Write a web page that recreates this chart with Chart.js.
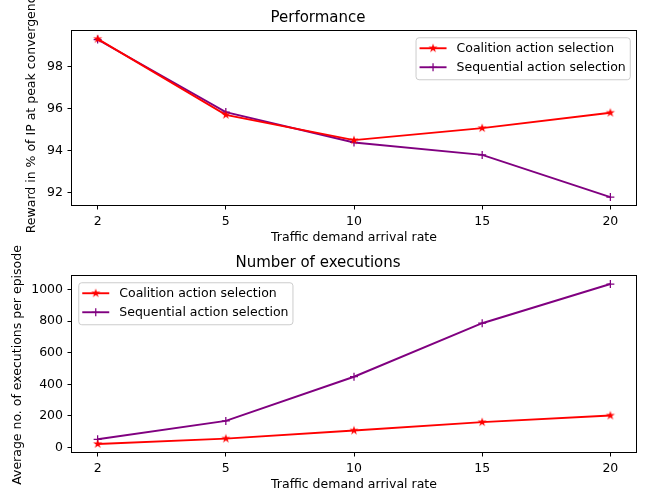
<!DOCTYPE html>
<html>
<head>
<meta charset="utf-8">
<script src="https://cdn.jsdelivr.net/npm/chart.js@4.4.1/dist/chart.umd.min.js"></script>
<style>
  html, body { margin: 0; padding: 0; background: #fff; }
  #wrap { position: relative; width: 646px; height: 498px; }
  #wrap canvas { position: absolute; left: 0; top: 0; }
</style>
</head>
<body>
<div id="wrap">
  <canvas id="bottomChart" width="646" height="498" style="width:646px;height:498px"></canvas>
  <canvas id="topChart" width="646" height="498" style="width:646px;height:498px"></canvas>
</div>
<script>
// Data
const arrivalRates = ['2', '5', '10', '15', '20'];
const seriesNames = ['Coalition action selection', 'Sequential action selection'];
const coalitionReward = [99.30, 95.70, 94.50, 95.07, 95.80];
const sequentialReward = [99.27, 95.83, 94.39, 93.80, 91.80];
const coalitionExecutions = [23, 57, 108, 161, 203];
const sequentialExecutions = [53, 169, 448, 786, 1034];
const rewardTicks = [92, 94, 96, 98];
const executionTicks = [0, 200, 400, 600, 800, 1000];

const FONT = 'DejaVu Sans';
const tickFont = { family: FONT, size: 12.5 };
Chart.defaults.color = '#000';
Chart.defaults.font.family = FONT;

// filled five-point star, like matplotlib's '*' marker
function makeStar(r, color) {
    const c = document.createElement('canvas');
    const s = Math.ceil(r * 2) + 2;
    c.width = s;
    c.height = s;
    const g = c.getContext('2d');
    g.beginPath();
    for (let i = 0; i < 10; i++) {
        const rad = i % 2 === 0 ? r : r * 0.382;
        const a = -Math.PI / 2 + i * Math.PI / 5;
        const px = s / 2 + rad * Math.cos(a);
        const py = s / 2 + rad * Math.sin(a);
        if (i === 0) g.moveTo(px, py); else g.lineTo(px, py);
    }
    g.closePath();
    g.fillStyle = color;
    g.fill();
    return c;
}
const redStar = makeStar(4.8, '#ff0000');

function paddedRange(a, b) {
    const all = a.concat(b);
    const lo = Math.min(...all), hi = Math.max(...all);
    const m = (hi - lo) * 0.05;
    return { min: lo - m, max: hi + m };
}

function toPoints(values) {
    return values.map((v, i) => ({ x: i, y: v }));
}

// frame, rotated y label and matplotlib-like legend
const mplDecor = {
    id: 'mplDecor',
    afterDatasetsDraw(chart, args, opts) {
        const ctx = chart.ctx;
        const a = chart.chartArea;
        ctx.save();
        ctx.strokeStyle = '#000';
        ctx.lineWidth = 1;
        ctx.strokeRect(Math.round(a.left) - 0.5, Math.round(a.top) - 0.5,
            Math.round(a.right - a.left) + 1, Math.round(a.bottom - a.top) + 1);

        // y axis label (drawn by hand so it can overflow like the original)
        ctx.font = '12.5px "' + FONT + '"';
        ctx.fillStyle = '#000';
        ctx.translate(opts.yLabelX, (a.top + a.bottom) / 2 + opts.yLabelShift);
        ctx.rotate(-Math.PI / 2);
        ctx.textAlign = 'center';
        ctx.textBaseline = 'middle';
        ctx.fillText(opts.yLabel, 0, 0);
        ctx.restore();

        // legend
        const fs = 12.5;
        ctx.save();
        ctx.font = fs + 'px "' + FONT + '"';
        const sets = chart.data.datasets;
        const textW = Math.max(...sets.map(d => ctx.measureText(d.label).width));
        const w = 0.4 * fs + 2 * fs + 0.8 * fs + textW + 0.4 * fs;
        const h = 42;
        const x = opts.corner === 'right' ? a.right - 0.5 * fs - w : a.left + 0.5 * fs;
        const y = a.top + 0.5 * fs;
        ctx.beginPath();
        ctx.roundRect(x + 0.5, y + 0.5, w, h, 3);
        ctx.fillStyle = 'rgba(255,255,255,0.8)';
        ctx.fill();
        ctx.strokeStyle = '#cccccc';
        ctx.lineWidth = 1;
        ctx.stroke();
        sets.forEach((d, i) => {
            const ry = y + 11 + i * 19;
            ctx.strokeStyle = d.borderColor;
            ctx.lineWidth = 1.9;
            ctx.beginPath();
            ctx.moveTo(x + 4, ry);
            ctx.lineTo(x + 31, ry);
            ctx.stroke();
            const mx = x + 17.5;
            if (d.pointStyle === 'cross') {
                ctx.lineWidth = 1.25;
                ctx.beginPath();
                ctx.moveTo(mx - 4, ry); ctx.lineTo(mx + 4, ry);
                ctx.moveTo(mx, ry - 4); ctx.lineTo(mx, ry + 4);
                ctx.stroke();
            } else {
                ctx.drawImage(d.pointStyle, mx - d.pointStyle.width / 2, ry - d.pointStyle.height / 2);
            }
            ctx.fillStyle = '#000';
            ctx.textBaseline = 'middle';
            ctx.fillText(d.label, x + 41, ry);
        });
        ctx.restore();
    }
};

function makeDatasets(coalition, sequential) {
    return [{
        label: seriesNames[0],
        data: toPoints(coalition),
        borderColor: '#ff0000',
        backgroundColor: '#ff0000',
        borderWidth: 1.9,
        pointStyle: redStar,
        pointRadius: 5
    }, {
        label: seriesNames[1],
        data: toPoints(sequential),
        borderColor: '#800080',
        backgroundColor: '#800080',
        borderWidth: 1.9,
        pointStyle: 'cross',
        pointRadius: 4,
        pointBorderWidth: 1.25
    }];
}

function makeChart(id, cfg) {
    const yr = paddedRange(cfg.coalition, cfg.sequential);
    return new Chart(document.getElementById(id), {
        type: 'line',
        data: { datasets: makeDatasets(cfg.coalition, cfg.sequential) },
        options: {
            responsive: false,
            animation: false,
            layout: { padding: cfg.padding },
            plugins: {
                legend: { display: false },
                tooltip: { enabled: false },
                title: {
                    display: true,
                    text: cfg.title,
                    color: '#000',
                    font: { family: FONT, size: 15, weight: 'normal' },
                    padding: { top: 9, bottom: 4 }
                },
                mplDecor: {
                    corner: cfg.corner,
                    yLabel: cfg.yLabel,
                    yLabelX: cfg.yLabelX,
                    yLabelShift: cfg.yLabelShift
                }
            },
            scales: {
                x: {
                    type: 'linear',
                    min: -0.2,
                    max: 4.2,
                    afterBuildTicks: s => { s.ticks = arrivalRates.map((_, i) => ({ value: i })); },
                    afterFit: s => { s.height = 40.5; },
                    ticks: {
                        callback: v => arrivalRates[v],
                        font: tickFont,
                        color: '#000',
                        padding: 4.5,
                        maxRotation: 0,
                        autoSkip: false
                    },
                    grid: { drawOnChartArea: false, tickLength: 4.5, color: '#000', lineWidth: 1 },
                    border: { display: false },
                    title: {
                        display: true,
                        text: 'Traffic demand arrival rate',
                        color: '#000',
                        font: tickFont,
                        padding: 0
                    }
                },
                y: {
                    min: yr.min,
                    max: yr.max,
                    afterBuildTicks: s => { s.ticks = cfg.ticks.map(v => ({ value: v })); },
                    afterFit: s => { s.width = 72; },
                    ticks: { font: tickFont, color: '#000', padding: 4.5, callback: v => String(v) },
                    grid: { drawOnChartArea: false, tickLength: 4.5, color: '#000', lineWidth: 1 },
                    border: { display: false }
                }
            }
        },
        plugins: [mplDecor]
    });
}

makeChart('topChart', {
    title: 'Performance',
    yLabel: 'Reward in % of IP at peak convergence',
    coalition: coalitionReward,
    sequential: sequentialReward,
    ticks: rewardTicks,
    corner: 'right',
    yLabelX: 32,
    yLabelShift: -7,
    padding: { left: 0, right: 10, top: 0, bottom: 252.5 }
});

makeChart('bottomChart', {
    title: 'Number of executions',
    yLabel: 'Average no. of executions per episode',
    coalition: coalitionExecutions,
    sequential: sequentialExecutions,
    ticks: executionTicks,
    corner: 'left',
    yLabelX: 18,
    yLabelShift: 1,
    padding: { left: 0, right: 10, top: 245, bottom: 5.5 }
});
</script>
</body>
</html>
